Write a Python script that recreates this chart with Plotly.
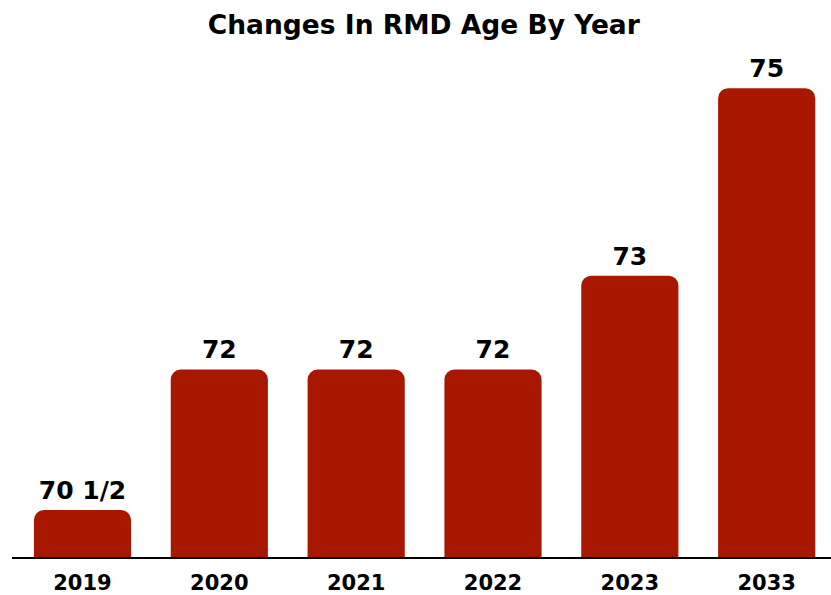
import plotly.graph_objects as go

years = ["2019", "2020", "2021", "2022", "2023", "2033"]
ages = [70.5, 72, 72, 72, 73, 75]
labels = ["70 1/2", "72", "72", "72", "73", "75"]

FONT = "DejaVu Sans"

fig = go.Figure()
fig.add_trace(go.Bar(
    x=years, y=ages,
    marker=dict(color="#A81800", line=dict(width=0)),
    cliponaxis=False,
))
fig.add_trace(go.Scatter(
    x=years, y=ages, mode="markers+text", text=["<b>%s</b>" % t for t in labels],
    textposition="top center",
    marker=dict(size=6, opacity=0),
    textfont=dict(family=FONT, size=25, color="black"),
    cliponaxis=False, hoverinfo="skip",
))
fig.update_layout(
    width=831, height=595,
    margin=dict(l=12, r=0, t=60, b=38),
    paper_bgcolor="white", plot_bgcolor="white",
    bargap=0.29, barcornerradius=10,
    title=dict(text="<b>Changes In RMD Age By Year</b>", x=0.51, xanchor="center",
               y=0.958, yanchor="middle",
               font=dict(family=FONT, size=26.5, color="black")),
    showlegend=False,
)
fig.update_xaxes(type="category", range=[-0.515, 5.47], showline=True, linecolor="black",
                 linewidth=2, ticks="", showgrid=False, ticklabelstandoff=6,
                 tickfont=dict(family=FONT, size=21, color="black", weight="bold"))
fig.update_yaxes(range=[70, 75.3], visible=False, showgrid=False)
fig.write_html("out.html")
